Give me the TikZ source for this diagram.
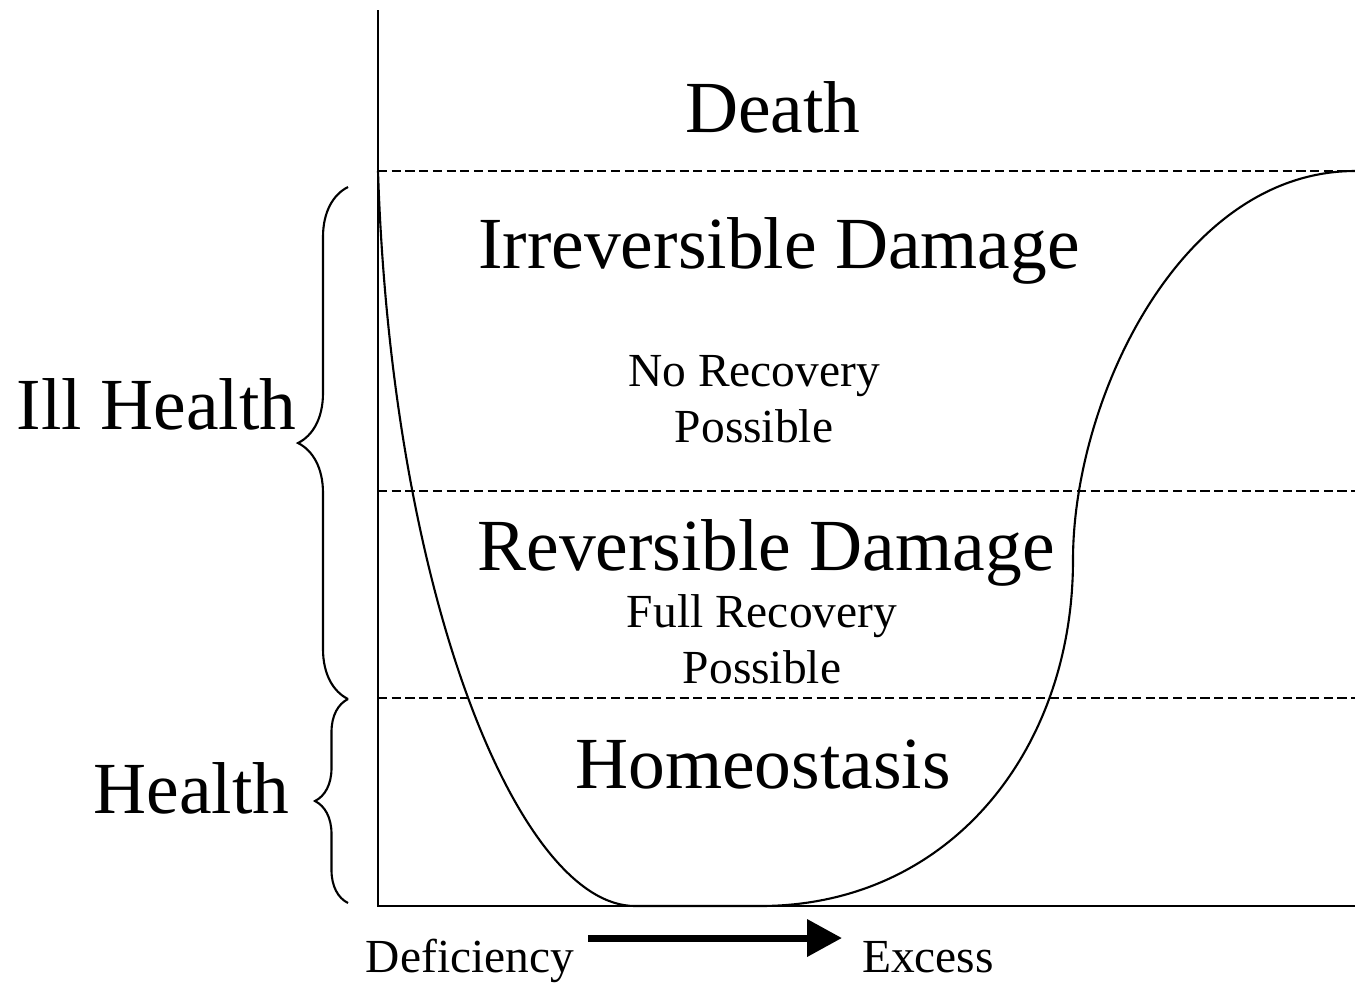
\documentclass[tikz,border=0pt]{standalone}
\usepackage{fontspec}
\setmainfont{Liberation Serif}
\usetikzlibrary{arrows.meta,decorations.pathreplacing}

\begin{document}
\begin{tikzpicture}
	[x=0.1mm, y=-0.1mm,
	 big/.style={font=\fontsize{20.9}{25}\selectfont, inner sep=0pt, anchor=base},
	 small/.style={font=\fontsize{13.5}{15.7}\selectfont, inner sep=0pt, anchor=base, align=center},
	 level/.style={dash pattern=on 2.6pt off 1.3pt, line width=0.45pt},
	 curly/.style={decorate, decoration={brace, amplitude=#1}, line width=0.6pt}]

	\useasboundingbox (0,0) rectangle (1355,982);

	% axis
	\coordinate (top) at (378,10);
	\coordinate (o) at (378,906);
	\coordinate (right) at (1355,906);
	\draw[line width=0.6pt] (top) -- (o) -- (right);

	% dashed
	\foreach \y in {171,491,698}
		\draw[level] (378,\y) -- (1355,\y);

	% function
	\draw[line width=0.6pt] (378,171) .. controls (392,600) and (520,906) .. (635,906)
		-- (760,906) .. controls (950,906) and (1073,750) .. (1073,560)
		.. controls (1073,400) and (1180,171) .. (1355,171);

	% braces
	\coordinate (illtop) at (348,187);
	\coordinate (split) at (348,699);
	\coordinate (healthbot) at (348,903);
	\draw[curly=5mm] (split) -- (illtop);
	\draw[curly=3.3mm] (healthbot) -- (split);

	% zones
	\node[big] (death) at (773,132) {Death};
	\node[big] (irrev) at (779,268) {Irreversible Damage};
	\node[small] (norec) at (754,442) {No Recovery\\Possible};
	\node[big] (rev) at (766,570) {Reversible Damage};
	\node[small] (fullrec) at (762,683) {Full Recovery\\Possible};
	\node[big] (homeo) at (763,788) {Homeostasis};

	% health
	\node[big, anchor=base east] (ill) at (297,429) {Ill Health};
	\node[big, anchor=base east] (health) at (290,813) {Health};

	% dose
	\node[small] (defic) at (470,972) {Deficiency};
	\node[small] (excess) at (928,972) {Excess};
	\coordinate (from) at (588,938);
	\coordinate (to) at (842,938);
	\draw[line width=0.7mm, -{Triangle[length=3.5mm, width=3.6mm]}] (from) -- (to);

\end{tikzpicture}
\end{document}
